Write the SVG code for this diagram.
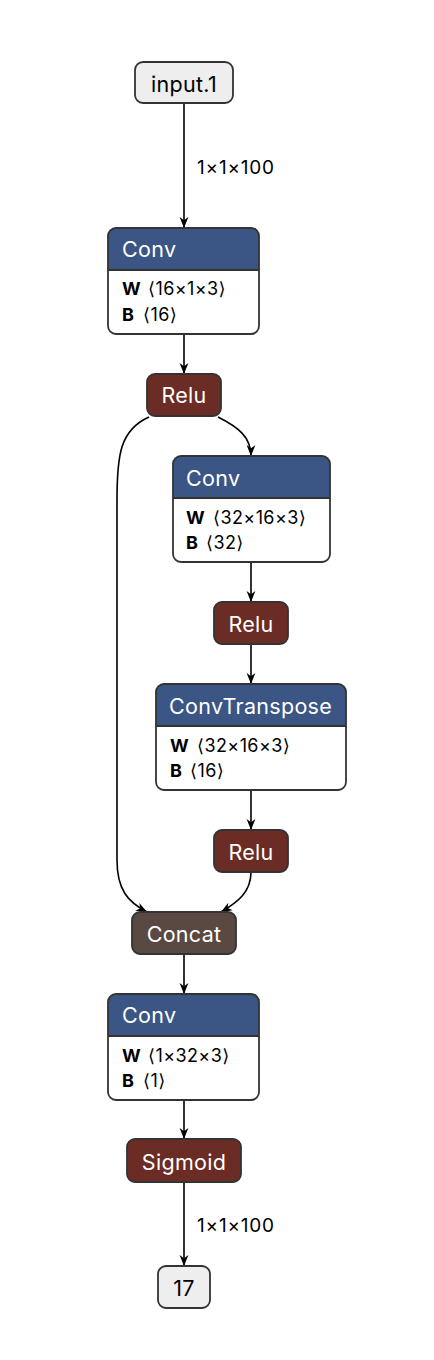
<svg xmlns="http://www.w3.org/2000/svg" width="434" height="1360" viewBox="0 0 434 1360">
<style>
text{font-family:"Inter","DejaVu Sans",sans-serif}
.n{font-size:21.5px;letter-spacing:0.3px}
.w{fill:#fff}
.d{fill:#000}
.b{font-size:18px;fill:#000;letter-spacing:0.4px}
.bb{font-weight:bold}
.e{fill:none;stroke:#000;stroke-width:1.6;marker-end:url(#arr)}
.lbl{font-size:19px;fill:#000;letter-spacing:0.8px}
.box{stroke:#333;stroke-width:1.8}
.layer{fill:#3b5585}
.act{fill:#6a2c24}
.ten{fill:#5a4842}
.io{fill:#eee}
</style>
<defs>
<marker id="arr" viewBox="0 0 10 10" refX="10" refY="5" markerWidth="11" markerHeight="11" markerUnits="userSpaceOnUse" orient="auto">
<path d="M0,1 L10,5 L0,9 L3,5 z" fill="#000"/>
</marker>
</defs>
<g id="edges">
<path class="e" d="M184,103 L184,228"/>
<path class="e" d="M184,334 L184,374"/>
<path class="e" d="M149,417 C120,430 117,455 117,500 L117,860 C117,890 128,902 147,912"/>
<path class="e" d="M218,417 C238,427 251,437 251,456"/>
<path class="e" d="M251,562 L251,602"/>
<path class="e" d="M251,644 L251,684"/>
<path class="e" d="M251,790 L251,830"/>
<path class="e" d="M251,872 C251,892 238,902 221,912"/>
<path class="e" d="M184,954 L184,994"/>
<path class="e" d="M184,1100 L184,1139"/>
<path class="e" d="M184,1182 L184,1266"/>
<text class="lbl" x="197" y="174">1×1×100</text>
<text class="lbl" x="197" y="1232">1×1×100</text>
</g>
<g id="input1">
<rect class="box io" x="135" y="62" width="98" height="41" rx="8"/>
<text class="n d" x="184" y="92" text-anchor="middle">input.1</text>
</g>
<g id="conv1">
<rect x="108" y="228" width="151" height="106" rx="8" fill="#fff"/>
<path class="layer" d="M108,270 V236 A8,8 0 0 1 116,228 H251 A8,8 0 0 1 259,236 V270 Z"/>
<rect class="box" x="108" y="228" width="151" height="106" rx="8" fill="none"/>
<line x1="108" y1="270" x2="259" y2="270" stroke="#333" stroke-width="1.8"/>
<text class="n w" x="122" y="257">Conv</text>
<text class="b" x="122" y="295"><tspan class="bb">W</tspan><tspan x="148">⟨16×1×3⟩</tspan></text>
<text class="b" x="122" y="321"><tspan class="bb">B</tspan><tspan x="143">⟨16⟩</tspan></text>
</g>
<g id="relu1">
<rect class="box act" x="147" y="374" width="74" height="42" rx="8"/>
<text class="n w" x="184" y="403" text-anchor="middle">Relu</text>
</g>
<g id="conv2">
<rect x="173" y="456" width="157" height="106" rx="8" fill="#fff"/>
<path class="layer" d="M173,498 V464 A8,8 0 0 1 181,456 H322 A8,8 0 0 1 330,464 V498 Z"/>
<rect class="box" x="173" y="456" width="157" height="106" rx="8" fill="none"/>
<line x1="173" y1="498" x2="330" y2="498" stroke="#333" stroke-width="1.8"/>
<text class="n w" x="186" y="486">Conv</text>
<text class="b" x="186" y="524"><tspan class="bb">W</tspan><tspan x="213">⟨32×16×3⟩</tspan></text>
<text class="b" x="186" y="549"><tspan class="bb">B</tspan><tspan x="206">⟨32⟩</tspan></text>
</g>
<g id="relu2">
<rect class="box act" x="214" y="602" width="74" height="42" rx="8"/>
<text class="n w" x="251" y="632" text-anchor="middle">Relu</text>
</g>
<g id="convtranspose">
<rect x="156" y="684" width="190" height="106" rx="8" fill="#fff"/>
<path class="layer" d="M156,726 V692 A8,8 0 0 1 164,684 H338 A8,8 0 0 1 346,692 V726 Z"/>
<rect class="box" x="156" y="684" width="190" height="106" rx="8" fill="none"/>
<line x1="156" y1="726" x2="346" y2="726" stroke="#333" stroke-width="1.8"/>
<text class="n w" x="169" y="714">ConvTranspose</text>
<text class="b" x="170" y="752"><tspan class="bb">W</tspan><tspan x="197">⟨32×16×3⟩</tspan></text>
<text class="b" x="170" y="777"><tspan class="bb">B</tspan><tspan x="190">⟨16⟩</tspan></text>
</g>
<g id="relu3">
<rect class="box act" x="214" y="830" width="74" height="42" rx="8"/>
<text class="n w" x="251" y="860" text-anchor="middle">Relu</text>
</g>
<g id="concat">
<rect class="box ten" x="132" y="912" width="104" height="42" rx="8"/>
<text class="n w" x="184" y="942" text-anchor="middle">Concat</text>
</g>
<g id="conv3">
<rect x="108" y="994" width="151" height="106" rx="8" fill="#fff"/>
<path class="layer" d="M108,1036 V1002 A8,8 0 0 1 116,994 H251 A8,8 0 0 1 259,1002 V1036 Z"/>
<rect class="box" x="108" y="994" width="151" height="106" rx="8" fill="none"/>
<line x1="108" y1="1036" x2="259" y2="1036" stroke="#333" stroke-width="1.8"/>
<text class="n w" x="122" y="1023">Conv</text>
<text class="b" x="122" y="1062"><tspan class="bb">W</tspan><tspan x="148">⟨1×32×3⟩</tspan></text>
<text class="b" x="122" y="1087"><tspan class="bb">B</tspan><tspan x="143">⟨1⟩</tspan></text>
</g>
<g id="sigmoid">
<rect class="box act" x="127" y="1139" width="114" height="43" rx="8"/>
<text class="n w" x="184" y="1170" text-anchor="middle">Sigmoid</text>
</g>
<g id="out17">
<rect class="box io" x="158" y="1266" width="52" height="42" rx="8"/>
<text class="n d" x="184" y="1296" text-anchor="middle">17</text>
</g>
</svg>
